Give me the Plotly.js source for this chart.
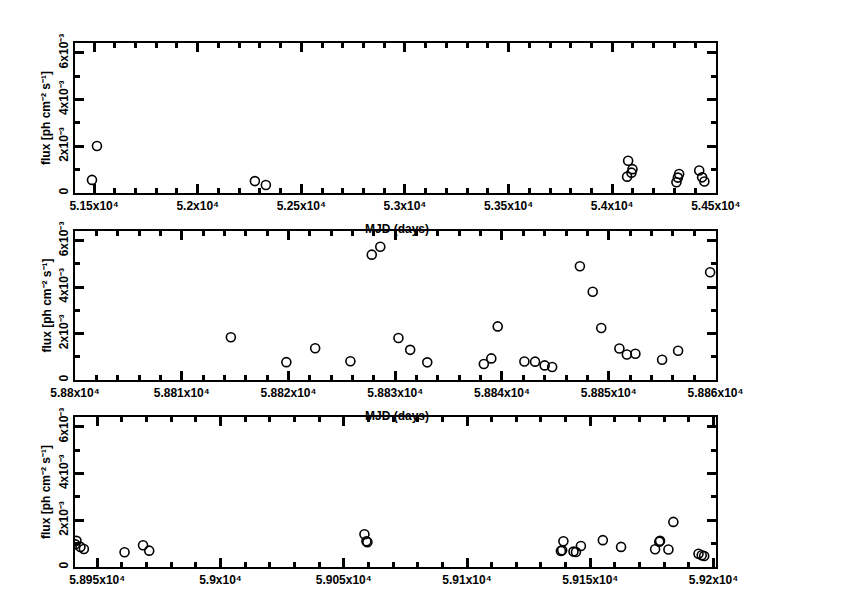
<!DOCTYPE html>
<html>
<head>
<meta charset="utf-8">
<script src="https://cdn.plot.ly/plotly-3.0.1.min.js"></script>
<style>html,body{margin:0;padding:0;background:#fff;}#chart{width:842px;height:595px;}</style>
</head>
<body>
<div id="chart"></div>
<script>
// ---- data (flux in units of 10^-3 ph cm^-2 s^-1, MJD in days) ----
const mjd1 = [51490, 51514, 52276, 52329, 54072, 54093, 54098, 54077, 54310, 54317, 54323, 54420, 54434, 54445];
const flux1 = [0.56, 2.01, 0.51, 0.34, 0.70, 0.87, 1.02, 1.38, 0.46, 0.66, 0.81, 0.96, 0.67, 0.49];

const mjd2 = [58814.6, 58819.8, 58822.5, 58825.8, 58827.8, 58828.6, 58830.3, 58831.4, 58833.0, 58838.3, 58839.0, 58839.6,
              58842.1, 58843.1, 58844.0, 58844.7, 58847.3, 58848.5, 58849.3, 58851.0, 58851.7, 58852.5, 58855.0, 58856.5, 58859.5];
const flux2 = [1.84, 0.77, 1.37, 0.81, 5.40, 5.74, 1.81, 1.30, 0.76, 0.69, 0.93, 2.31,
               0.80, 0.79, 0.63, 0.56, 4.90, 3.80, 2.24, 1.36, 1.10, 1.13, 0.87, 1.26, 4.64];

const mjd3 = [58941.6, 58941.1, 58943.2, 58944.6, 58961.1, 58968.6, 58971.1, 59058.4, 59059.2, 59059.6,
              59138.1, 59139.1, 59138.6, 59143.2, 59144.2, 59146.2, 59155.1, 59162.5, 59176.3, 59178.3, 59178.0,
              59181.7, 59183.7, 59193.9, 59195.2, 59196.2];
const flux3 = [1.12, 0.97, 0.86, 0.77, 0.63, 0.93, 0.70, 1.40, 1.10, 1.06,
               0.69, 1.10, 0.72, 0.66, 0.64, 0.90, 1.15, 0.86, 0.76, 1.12, 1.08,
               0.75, 1.93, 0.57, 0.50, 0.47];

const xTicks1 = [51500, 52000, 52500, 53000, 53500, 54000, 54500];
const xText1 = ['5.15x10⁴', '5.2x10⁴', '5.25x10⁴', '5.3x10⁴', '5.35x10⁴', '5.4x10⁴', '5.45x10⁴'];
const xTicks2 = [58800, 58810, 58820, 58830, 58840, 58850, 58860];
const xText2 = ['5.88x10⁴', '5.881x10⁴', '5.882x10⁴', '5.883x10⁴', '5.884x10⁴', '5.885x10⁴', '5.886x10⁴'];
const xTicks3 = [58950, 59000, 59050, 59100, 59150, 59200];
const xText3 = ['5.895x10⁴', '5.9x10⁴', '5.905x10⁴', '5.91x10⁴', '5.915x10⁴', '5.92x10⁴'];
const yTicks = [0, 2, 4, 6];
const yText = ['0', '2x10⁻³', '4x10⁻³', '6x10⁻³'];

const xTitle = 'MJD (days)';
const yTitle = 'flux [ph cm⁻² s⁻¹]';

// ---- layout geometry ----
const W = 842, H = 595;
const left = 75, right = 716;
const panels = [ {top: 43, bottom: 193}, {top: 231, bottom: 380}, {top: 417, bottom: 567} ];
const xRanges = [[51408, 54501], [58800, 58860.05], [58941, 59201]];
const yRange = [0, 6.42];
const xMinor = [100, 2, 10];
const yMinor = 1;
const font = {family: 'Liberation Sans, Arial, sans-serif', size: 12, color: '#000', weight: 'bold'};

const marker = {symbol: 'circle-open', size: 9, color: '#000', line: {width: 1.6, color: '#000'}};
const traces = [
  {x: mjd1, y: flux1, xaxis: 'x', yaxis: 'y', mode: 'markers', type: 'scatter', marker: marker},
  {x: mjd2, y: flux2, xaxis: 'x2', yaxis: 'y2', mode: 'markers', type: 'scatter', marker: marker},
  {x: mjd3, y: flux3, xaxis: 'x3', yaxis: 'y3', mode: 'markers', type: 'scatter', marker: marker}
];

const layout = {
  width: W, height: H, margin: {l: 0, r: 0, t: 0, b: 0}, showlegend: false,
  annotations: []
};

function axisStyle(minorDtick) {
  return {
    ticks: 'inside', ticklen: 9, tickwidth: 3, tickcolor: '#000',
    minor: {ticks: 'inside', dtick: minorDtick, ticklen: 5, tickwidth: 3, tickcolor: '#000',
            showgrid: true, gridcolor: 'rgba(0,0,0,0)'},
    showline: true, linewidth: 2.2, linecolor: '#000', mirror: 'allticks',
    showgrid: true, gridcolor: 'rgba(0,0,0,0)', zeroline: false, tickfont: font
  };
}

panels.forEach((p, i) => {
  const n = i + 1;
  const xs = n === 1 ? '' : String(n);
  layout['xaxis' + xs] = Object.assign(axisStyle(xMinor[i]), {
    domain: [left / W, right / W], range: xRanges[i], anchor: 'y' + xs,
    tickmode: 'array', tickvals: [xTicks1, xTicks2, xTicks3][i], ticktext: [xText1, xText2, xText3][i]
  });
  layout['yaxis' + xs] = Object.assign(axisStyle(yMinor), {
    domain: [1 - p.bottom / H, 1 - p.top / H], range: yRange, anchor: 'x' + xs,
    tickmode: 'array', tickvals: yTicks, ticktext: yText, tickangle: -90
  });
  layout.annotations.push({text: yTitle, xref: 'paper', yref: 'paper', x: 46 / W, y: 1 - (p.top + p.bottom) / 2 / H,
    textangle: -90, showarrow: false, font: font, xanchor: 'center', yanchor: 'middle'});
  if (i < 2) {
    layout.annotations.push({text: xTitle, xref: 'paper', yref: 'paper', x: 397 / W, y: 1 - (p.bottom + 36) / H,
      showarrow: false, font: font, xanchor: 'center', yanchor: 'middle'});
  }
});

Plotly.newPlot('chart', traces, layout, {displayModeBar: false});
</script>
</body>
</html>
